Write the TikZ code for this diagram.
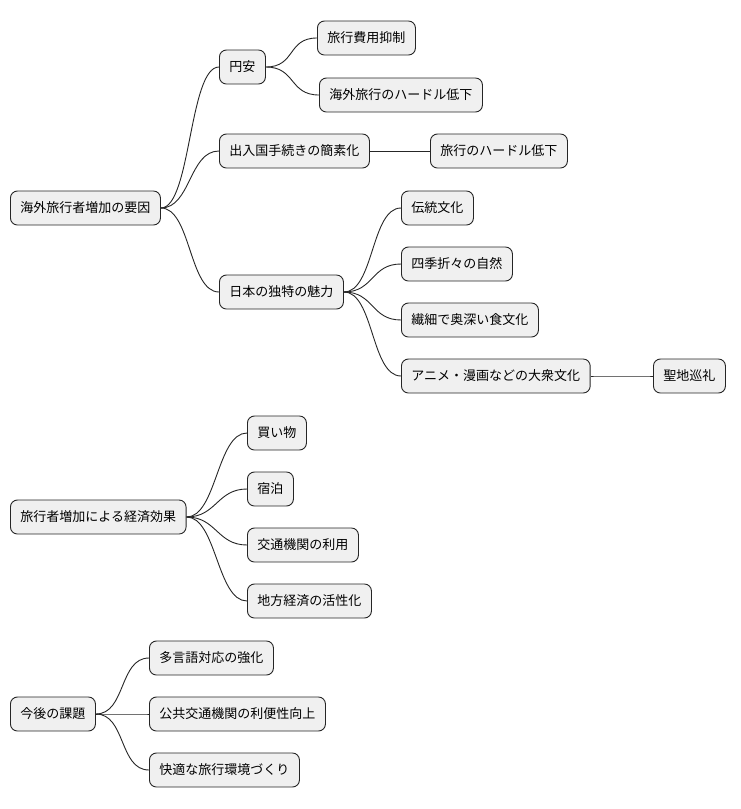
\documentclass[tikz,border=0pt]{standalone}
\usepackage{fontspec}
\setmainfont{Noto Sans CJK JP}
\begin{document}
\begin{tikzpicture}[x=1pt,y=-1pt,
  nd/.style={draw=black!85,line width=0.9pt,fill=black!6,rounded corners=7pt,minimum height=34pt,inner xsep=10pt,anchor=west,font=\fontsize{13}{15}\selectfont},
  ln/.style={draw=black!85,line width=0.9pt}]
\useasboundingbox (0,0) rectangle (740,809);
\node[nd] (r1) at (10,208) {海外旅行者増加の要因};
\node[nd] (a) at (219,67) {円安};
\node[nd] (a1) at (317,38) {旅行費用抑制};
\node[nd] (a2) at (319,95) {海外旅行のハードル低下};
\node[nd] (b) at (219,151) {出入国手続きの簡素化};
\node[nd] (b1) at (430,151) {旅行のハードル低下};
\node[nd] (c) at (219,292) {日本の独特の魅力};
\node[nd] (c1) at (401,208) {伝統文化};
\node[nd] (c2) at (401,264) {四季折々の自然};
\node[nd] (c3) at (401,320) {繊細で奥深い食文化};
\node[nd] (c4) at (401,376) {アニメ・漫画などの大衆文化};
\node[nd] (c5) at (653,376) {聖地巡礼};
\node[nd] (r2) at (10,517) {旅行者増加による経済効果};
\node[nd] (d1) at (247,433) {買い物};
\node[nd] (d2) at (247,489) {宿泊};
\node[nd] (d3) at (247,545) {交通機関の利用};
\node[nd] (d4) at (247,601) {地方経済の活性化};
\node[nd] (r3) at (10,714) {今後の課題};
\node[nd] (e1) at (149,658) {多言語対応の強化};
\node[nd] (e2) at (149,714) {公共交通機関の利便性向上};
\node[nd] (e3) at (149,770) {快適な旅行環境づくり};
\foreach \p/\c in {r1/a,r1/b,r1/c,a/a1,a/a2,b/b1,c/c1,c/c2,c/c3,c/c4,c4/c5,r2/d1,r2/d2,r2/d3,r2/d4,r3/e1,r3/e2,r3/e3}
  \draw[ln] (\p.east) .. controls ([xshift=30pt]\p.east) and ([xshift=-30pt]\c.west) .. (\c.west);
\end{tikzpicture}
\end{document}
